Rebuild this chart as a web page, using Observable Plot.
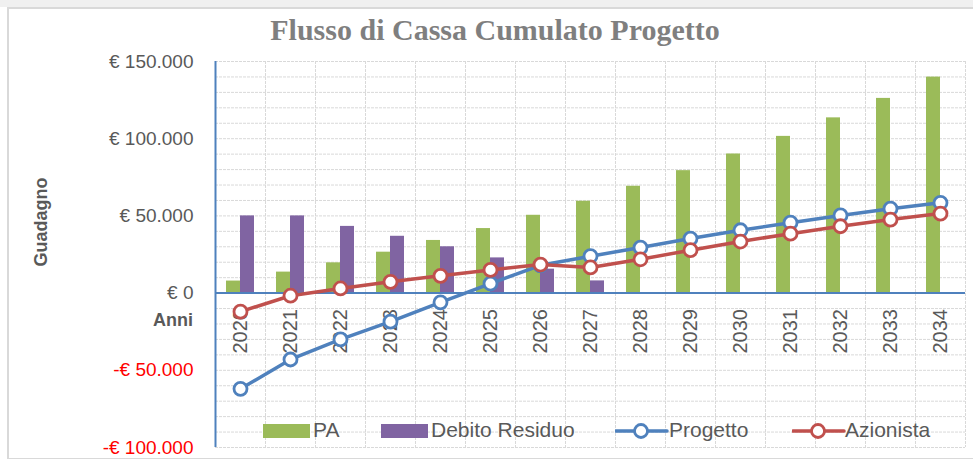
<!DOCTYPE html>
<html>
<head>
<meta charset="utf-8">
<script src="https://cdn.jsdelivr.net/npm/d3@7"></script>
<script src="https://cdn.jsdelivr.net/npm/@observablehq/plot@0.6"></script>
<style>
  html, body { margin: 0; padding: 0; background: #ffffff; }
  body { width: 973px; height: 459px; position: relative; overflow: hidden; font-family: "Liberation Sans", Arial, sans-serif; }
  #topband { position: absolute; left: 0; top: 0; width: 973px; height: 7px; background: #f0f0f0; }
  #frame { position: absolute; left: 7px; top: 7px; width: 980px; height: 449px; border-left: 2px solid #d9d9d9; border-top: 2px solid #d9d9d9; border-bottom: 2px solid #d9d9d9; }
  #chart { position: absolute; left: 0; top: 0; }
  #title { position: absolute; left: 0; top: 15px; width: 990px; text-align: center; font-family: "Liberation Serif", "DejaVu Serif", serif; font-weight: bold; font-size: 30px; line-height: 30px; color: #7f7f7f; }
  .axt { position: absolute; font-weight: bold; font-size: 18px; color: #595959; line-height: 20px; }
  #anni { left: 153px; top: 310px; }
  #guadagno { left: 41px; top: 222px; transform: translate(-50%, -50%) rotate(-90deg); white-space: nowrap; }
  .leg { position: absolute; top: 420px; height: 20px; line-height: 20px; font-size: 21px; color: #595959; white-space: nowrap; }
  .sw { position: absolute; }
</style>
</head>
<body>
<div id="topband"></div>
<div id="frame"></div>
<div id="chart"></div>
<div id="title"></div>
<div id="anni" class="axt"></div>
<div id="guadagno" class="axt"></div>
<div id="legend"></div>
<script>
// ---- data ----
const years = [2020, 2021, 2022, 2023, 2024, 2025, 2026, 2027, 2028, 2029, 2030, 2031, 2032, 2033, 2034];
const pa = [7800, 13600, 19600, 26500, 34100, 41800, 50400, 59500, 69200, 79300, 90100, 101500, 113500, 126100, 139900];
const debitoResiduo = [50000, 50000, 43200, 36800, 30000, 22800, 15500, 7900, 0, 0, 0, 0, 0, 0, 0];
const progetto = [-62000, -43000, -30000, -18500, -6000, 6200, 18000, 23900, 29500, 35300, 40700, 45600, 50300, 54700, 58500];
const azionista = [-12000, -1700, 3000, 7300, 11200, 15000, 18500, 16600, 21900, 27800, 33400, 38500, 43300, 47600, 51500];
const yTicks = [-100000, -50000, 0, 50000, 100000, 150000];
const seriesNames = ["PA", "Debito Residuo", "Progetto", "Azionista"];
const titleText = "Flusso di Cassa Cumulato Progetto";
const xTitle = "Anni";
const yTitle = "Guadagno";

// ---- styling ----
const C = { pa: "#9bbb59", deb: "#8064a2", prog: "#4f81bd", az: "#c0504d", grid: "#d9d9d9", text: "#595959", neg: "#ff0000" };
const rows = years.map((year, i) => ({ year, pa: pa[i], deb: debitoResiduo[i], prog: progetto[i], az: azionista[i] }));
const gridTicks = d3.range(-100000, 150001, 10000);
const fmt = d => (d < 0 ? "-" : "") + "€ " + d3.format(",")(Math.abs(d)).replace(/,/g, ".");

const svg = Plot.plot({
  width: 973, height: 459,
  marginTop: 61, marginBottom: 12, marginLeft: 215, marginRight: 8,
  x: { type: "band", domain: years, padding: 0, axis: null },
  y: { domain: [-100000, 150000], axis: null },
  style: { background: "transparent", fontFamily: "Liberation Sans, Arial, sans-serif", overflow: "visible" },
  marks: [
    Plot.ruleY(gridTicks, { y: d => d, stroke: C.grid, strokeWidth: 1, strokeDasharray: "3,1" }),
    Plot.ruleX(years, { x: d => d, dx: -25, stroke: C.grid, strokeWidth: 1, strokeDasharray: "3,1" }),
    Plot.ruleX([years[years.length - 1]], { x: d => d, dx: 25, stroke: C.grid, strokeWidth: 1, strokeDasharray: "3,1" }),
    Plot.barY(rows, { x: "year", y: "pa", fill: C.pa, insetLeft: 11, insetRight: 25 }),
    Plot.barY(rows.filter(d => d.deb > 0), { x: "year", y: "deb", fill: C.deb, insetLeft: 25, insetRight: 11 }),
    Plot.ruleY([0], { stroke: C.prog, strokeWidth: 2 }),
    Plot.ruleX([years[0]], { x: d => d, dx: -25, stroke: C.prog, strokeWidth: 2 }),
    Plot.text(years, { x: d => d, y: () => 0, text: d => String(d), rotate: -90, textAnchor: "end", lineAnchor: "middle", dy: 16, fontSize: 20, fill: C.text }),
    Plot.line(rows, { x: "year", y: "prog", stroke: C.prog, strokeWidth: 3.5 }),
    Plot.dot(rows, { x: "year", y: "prog", r: 6.5, fill: "white", stroke: C.prog, strokeWidth: 2.8 }),
    Plot.line(rows, { x: "year", y: "az", stroke: C.az, strokeWidth: 3.5 }),
    Plot.dot(rows, { x: "year", y: "az", r: 6.5, fill: "white", stroke: C.az, strokeWidth: 2.8 }),
    Plot.text(yTicks.filter(d => d >= 0), { y: d => d, frameAnchor: "left", text: fmt, textAnchor: "end", dx: -22, fontSize: 19, fill: C.text }),
    Plot.text(yTicks.filter(d => d < 0), { y: d => d, frameAnchor: "left", text: fmt, textAnchor: "end", dx: -22, fontSize: 19, fill: C.neg })
  ]
});
document.getElementById("chart").appendChild(svg);

document.getElementById("title").textContent = titleText;
document.getElementById("anni").textContent = xTitle;
document.getElementById("guadagno").textContent = yTitle;

// ---- legend ----
const leg = document.getElementById("legend");
const items = [
  { name: seriesNames[0], type: "rect", color: C.pa, sx: 263, tx: 313 },
  { name: seriesNames[1], type: "rect", color: C.deb, sx: 381, tx: 431 },
  { name: seriesNames[2], type: "line", color: C.prog, sx: 616, tx: 669 },
  { name: seriesNames[3], type: "line", color: C.az, sx: 793, tx: 845 }
];
items.forEach(it => {
  const sw = document.createElement("div");
  sw.className = "sw";
  if (it.type === "rect") {
    sw.style.cssText = `left:${it.sx}px;top:424px;width:47px;height:14px;background:${it.color};`;
  } else {
    sw.innerHTML = `<svg width="54" height="20"><line x1="1" y1="10" x2="52" y2="10" stroke="${it.color}" stroke-width="3.5" stroke-linecap="round"/><circle cx="26" cy="10" r="6.5" fill="white" stroke="${it.color}" stroke-width="2.8"/></svg>`;
    sw.style.cssText = `left:${it.sx - 1}px;top:421px;width:54px;height:20px;`;
  }
  leg.appendChild(sw);
  const t = document.createElement("div");
  t.className = "leg";
  t.style.left = it.tx + "px";
  t.textContent = it.name;
  leg.appendChild(t);
});
</script>
</body>
</html>
